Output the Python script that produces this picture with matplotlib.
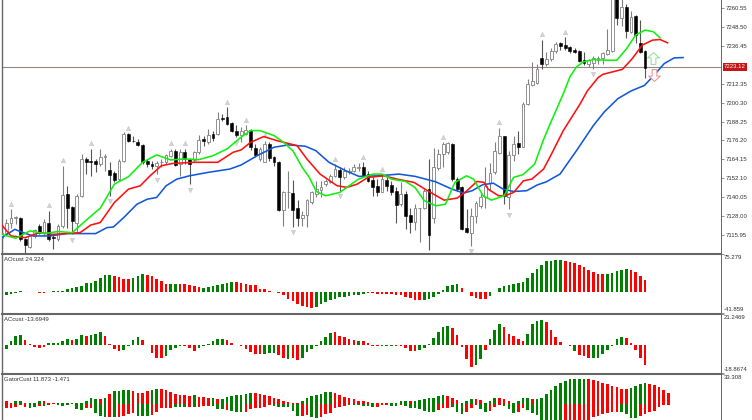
import numpy as np
import matplotlib
matplotlib.use('Agg')
import matplotlib.pyplot as plt

W, H = 752, 420
PLOT_LEFT, PLOT_RIGHT = 2, 721
BAR_X0, BAR_STEP = 1.67, 4.696
FONT = 'Liberation Sans'
TEXT_COL = '#333333'
EDGE_COL = '#666666'
BULL = '#008000'
BEAR = '#ff0000'

# --- candles (one row = ten bars) ---
opens = [7114.3, 7117.5, 7123.9, 7126.9, 7127.1, 7113.2, 7108.4, 7115.4, 7121.8, 7117.5,
         7123.9, 7114.5, 7113.2, 7121.8, 7142.0, 7133.9, 7123.9, 7141.0, 7164.4, 7162.9,
         7163.3, 7161.2, 7165.9, 7157.4, 7155.2, 7151.6, 7162.9, 7180.4, 7176.1, 7175.1,
         7173.3, 7162.9, 7161.2, 7159.7, 7162.3, 7162.3, 7166.5, 7169.7, 7161.2, 7168.7,
         7164.4, 7163.8, 7168.7, 7177.2, 7175.1, 7180.4, 7180.5, 7190.7, 7191.2, 7187.5,
         7182.2, 7179.4, 7180.5, 7183.1, 7171.4, 7164.4, 7162.3, 7174.0, 7165.5, 7162.7,
         7131.8, 7143.1, 7142.9, 7133.1, 7127.1, 7128.8, 7137.3, 7142.4, 7144.6, 7148.4,
         7149.7, 7153.7, 7157.4, 7152.7, 7156.1, 7156.9, 7158.6, 7159.5, 7154.8, 7151.0,
         7147.4, 7143.7, 7151.0, 7148.0, 7144.2, 7135.6, 7142.4, 7128.6, 7124.5, 7132.9,
         7133.1, 7145.2, 7126.7, 7158.6, 7167.6, 7168.7, 7174.0, 7151.6, 7146.7, 7120.3,
         7117.5, 7128.0, 7134.6, 7140.3, 7149.1, 7155.9, 7168.0, 7178.9, 7139.9, 7167.0,
         7174.6, 7172.3, 7199.2, 7211.7, 7212.8, 7229.0, 7225.2, 7228.4, 7233.3, 7238.4,
         7236.9, 7235.8, 7234.1, 7233.3, 7227.7, 7225.2, 7225.6, 7227.7, 7229.0, 7231.1,
         7233.3, 7268.0, 7253.9, 7261.0, 7245.4, 7255.6, 7238.4, 7233.3]
highs = [7122.8, 7126.0, 7132.4, 7128.2, 7127.5, 7114.3, 7116.4, 7119.6, 7122.8, 7126.0,
         7131.4, 7116.4, 7122.8, 7160.1, 7147.3, 7134.6, 7142.0, 7167.6, 7165.5, 7170.8,
         7164.4, 7170.8, 7167.6, 7162.3, 7156.9, 7164.4, 7181.4, 7180.8, 7179.3, 7177.2,
         7174.0, 7164.4, 7163.3, 7163.3, 7164.4, 7167.6, 7170.8, 7170.8, 7170.8, 7170.8,
         7165.0, 7169.7, 7180.0, 7179.3, 7183.6, 7182.5, 7194.3, 7192.9, 7197.5, 7188.0,
         7185.8, 7184.8, 7185.8, 7183.7, 7174.0, 7171.9, 7176.1, 7175.0, 7166.5, 7163.3,
         7144.2, 7156.5, 7151.0, 7138.2, 7131.4, 7138.8, 7144.2, 7150.1, 7150.1, 7151.6,
         7154.8, 7161.2, 7159.0, 7159.0, 7158.6, 7161.2, 7161.6, 7162.3, 7156.9, 7153.7,
         7151.6, 7154.8, 7153.7, 7150.5, 7146.3, 7149.5, 7144.2, 7133.5, 7135.6, 7133.5,
         7145.2, 7164.4, 7171.4, 7170.8, 7175.0, 7175.0, 7174.4, 7152.7, 7147.4, 7132.4,
         7133.5, 7137.8, 7142.0, 7159.1, 7161.6, 7175.0, 7184.2, 7179.3, 7169.3, 7178.9,
         7182.1, 7200.7, 7215.6, 7226.2, 7225.2, 7240.5, 7232.6, 7235.2, 7239.0, 7239.0,
         7241.8, 7236.5, 7234.8, 7233.7, 7232.6, 7228.4, 7229.9, 7229.9, 7232.6, 7246.9,
         7272.0, 7272.0, 7270.0, 7263.1, 7258.8, 7256.1, 7252.9, 7233.7]
lows = [7109.0, 7116.4, 7120.7, 7122.8, 7112.2, 7104.7, 7107.9, 7114.3, 7116.4, 7115.4,
        7112.2, 7106.9, 7112.2, 7120.7, 7120.7, 7116.4, 7117.5, 7139.9, 7154.8, 7153.7,
        7155.9, 7160.1, 7156.9, 7141.0, 7149.5, 7150.5, 7162.3, 7175.1, 7175.1, 7172.9,
        7161.2, 7159.1, 7158.0, 7154.8, 7159.5, 7161.2, 7165.5, 7160.1, 7153.7, 7161.2,
        7148.4, 7162.3, 7167.6, 7172.9, 7174.0, 7176.1, 7179.9, 7188.6, 7185.8, 7181.6,
        7178.4, 7175.2, 7179.4, 7170.0, 7165.5, 7163.3, 7162.3, 7163.3, 7160.1, 7131.4,
        7121.8, 7133.5, 7121.1, 7121.8, 7121.8, 7121.1, 7136.0, 7139.9, 7140.3, 7147.4,
        7148.8, 7152.7, 7144.2, 7151.6, 7154.8, 7155.9, 7156.5, 7153.1, 7149.5, 7141.0,
        7141.0, 7143.1, 7144.2, 7141.6, 7123.9, 7134.6, 7119.6, 7117.5, 7119.0, 7111.8,
        7132.4, 7106.2, 7123.9, 7157.4, 7159.1, 7167.6, 7150.5, 7144.2, 7119.0, 7117.5,
        7109.0, 7123.9, 7133.5, 7133.1, 7144.2, 7154.8, 7167.6, 7135.6, 7132.4, 7162.9,
        7167.6, 7171.8, 7198.5, 7210.9, 7212.0, 7222.0, 7223.7, 7226.9, 7231.6, 7233.7,
        7234.1, 7232.0, 7232.0, 7226.2, 7224.1, 7223.0, 7222.0, 7224.7, 7224.7, 7230.5,
        7232.7, 7249.7, 7249.0, 7241.2, 7244.4, 7238.4, 7232.2, 7216.2]
closes = [7117.5, 7123.9, 7127.1, 7127.5, 7113.2, 7109.6, 7115.4, 7119.2, 7117.5, 7124.3,
          7113.2, 7113.9, 7121.8, 7141.6, 7133.1, 7125.0, 7141.0, 7164.4, 7162.3, 7162.3,
          7161.2, 7165.5, 7166.5, 7154.4, 7151.0, 7162.9, 7180.4, 7175.7, 7175.7, 7173.3,
          7162.3, 7161.2, 7160.1, 7161.8, 7162.7, 7167.2, 7169.7, 7160.8, 7168.7, 7164.4,
          7161.2, 7168.7, 7176.5, 7176.1, 7180.0, 7177.8, 7190.1, 7190.1, 7186.9, 7182.2,
          7179.4, 7182.2, 7183.1, 7172.0, 7167.2, 7170.8, 7174.0, 7165.0, 7162.3, 7132.2,
          7143.1, 7143.5, 7132.2, 7127.1, 7128.8, 7138.2, 7143.1, 7145.2, 7146.3, 7150.5,
          7153.7, 7158.0, 7153.1, 7156.5, 7156.9, 7159.1, 7159.5, 7153.7, 7150.1, 7146.7,
          7143.7, 7151.6, 7147.1, 7143.1, 7135.2, 7142.4, 7128.0, 7124.5, 7133.5, 7133.3,
          7144.2, 7116.0, 7159.1, 7167.6, 7174.0, 7174.4, 7151.6, 7145.2, 7119.6, 7118.2,
          7128.0, 7136.1, 7139.9, 7147.3, 7155.2, 7169.3, 7178.9, 7141.0, 7167.2, 7174.0,
          7171.9, 7199.6, 7212.4, 7214.1, 7222.0, 7225.2, 7227.9, 7233.3, 7237.9, 7236.5,
          7235.2, 7233.3, 7232.6, 7226.7, 7225.6, 7227.3, 7229.0, 7229.0, 7231.6, 7233.7,
          7270.0, 7253.9, 7261.0, 7246.1, 7255.0, 7243.3, 7232.6, 7222.6]

up_fractals = [2, 10, 13, 19, 27, 36, 39, 48, 52, 56, 71, 77, 81, 94, 106, 115, 120]
down_fractals = [5, 11, 15, 23, 33, 40, 50, 62, 72, 91, 100, 108, 126]

# --- moving averages, read at selected bars ---
green_bars = [0, 3, 6, 9, 12, 15, 18, 21, 24, 27, 30, 33, 36, 39, 42, 45, 48, 51, 53, 55, 58, 60, 62, 64, 65.5,
              67, 69, 72, 74, 76, 79, 81, 83, 86, 88, 90, 92.5, 94.5, 96.5, 99, 100.5, 102.5, 104.3, 107, 109,
              111, 113.5, 115.3, 116.9, 119.6, 121, 122.4, 123.8, 126, 128.9, 131, 133.1, 135, 137, 138.8, 140.2]
green_vals = [7116.4, 7113.9, 7118.6, 7116.9, 7118.2, 7117.5, 7125.4, 7133.1, 7148.4, 7153.1, 7162.3, 7167.0,
              7163.8, 7164.4, 7164.0, 7166.5, 7170.8, 7178.3, 7182.5, 7182.5, 7179.3, 7175.1, 7169.7, 7159.1,
              7152.7, 7143.7, 7141.0, 7143.1, 7147.4, 7151.6, 7154.8, 7154.8, 7151.6, 7150.1, 7146.3, 7137.8,
              7134.6, 7135.6, 7149.5, 7153.7, 7151.6, 7141.0, 7138.2, 7141.0, 7152.7, 7154.4, 7161.2, 7176.1,
              7187.5, 7206.0, 7216.7, 7223.0, 7226.2, 7227.7, 7227.3, 7227.3, 7234.8, 7243.3, 7246.5, 7245.4,
              7241.6]
red_bars = [0, 2, 5, 8, 11, 16.7, 19, 21, 24, 27, 29.5, 31.6, 34, 36.5, 41, 46, 49.3, 51, 53, 55.8, 58.6, 62.9,
            65, 67.8, 71.4, 73.5, 75.7, 78, 81.4, 84.2, 87.8, 90.7, 94.2, 97, 99.1, 101.2, 102.7, 103.6, 105.8,
            107.2, 109, 111.1, 112.9, 115.4, 116.9, 119.6, 123.2, 124.7, 126, 127, 128, 132.2, 134.3, 136.4, 138.6,
            140.2, 141.8]
red_vals = [7122.4, 7115.4, 7114.3, 7117.5, 7116.4, 7117.5, 7122.4, 7123.9, 7136.7, 7145.2, 7147.3, 7153.7,
            7160.1, 7161.6, 7162.3, 7162.3, 7168.7, 7170.2, 7175.0, 7178.7, 7176.1, 7172.9, 7164.4, 7154.8,
            7147.4, 7146.3, 7148.4, 7152.7, 7153.7, 7151.6, 7149.5, 7144.2, 7138.2, 7139.5, 7144.2, 7150.1,
            7149.5, 7145.2, 7141.0, 7141.0, 7143.1, 7150.5, 7151.6, 7158.0, 7166.5, 7182.5, 7199.6, 7207.7,
            7212.5, 7216.2, 7218.3, 7221.5, 7228.4, 7236.9, 7240.1, 7240.5, 7238.4]
blue_bars = [0, 2.8, 4.6, 6.7, 10.3, 13.8, 20, 22.4, 23.8, 26, 28.8, 31, 33, 35, 37.3, 40, 44, 48.6, 51, 54.4,
             58, 61.1, 64.7, 66.9, 69.7, 73.3, 76.1, 80.3, 84.6, 88.1, 92.4, 95.9, 98.4, 100.2, 102.4, 104.7,
             106.8, 109, 111.8, 114, 116, 118.9, 122.4, 126, 128.3, 131.2, 134, 136.9, 138.9, 141.1, 143.2, 145.1]
blue_vals = [7114.3, 7119.6, 7117.5, 7115.4, 7115.4, 7116.9, 7116.9, 7120.7, 7121.1, 7127.1, 7135.6, 7138.8,
             7139.9, 7147.3, 7151.6, 7153.7, 7155.9, 7158.0, 7160.6, 7166.5, 7171.9, 7173.4, 7172.5, 7169.7,
             7162.3, 7156.9, 7153.3, 7153.7, 7154.8, 7153.3, 7149.9, 7145.2, 7142.7, 7144.2, 7148.0, 7149.0,
             7145.2, 7143.7, 7144.2, 7147.8, 7149.9, 7154.8, 7169.7, 7185.7, 7194.3, 7202.8, 7207.7, 7211.3,
             7217.7, 7225.2, 7228.8, 7229.0]

last_price = 7223.12
price_ticks = [7260.55, 7248.50, 7236.45, 7212.35, 7200.30, 7188.25, 7176.20, 7164.15, 7152.10, 7140.05,
               7128.00, 7115.95]
price_top, price_bottom = 7265.66, 7103.9

# --- AOcust ---
ao_vals = [-11.8, -5.2, -3.3, -2.0, 2.0, 0.7, 0.7, -0.7, -1.3, -1.3,
           0.7, 2.0, 2.0, 2.6, 5.2, 8.5, 9.2, 12.5, 17.1, 18.4,
           21.6, 28.2, 32.8, 34.1, 31.5, 28.9, 26.2, 24.9, 26.9, 30.8,
           34.8, 34.1, 30.8, 26.2, 21.0, 16.4, 15.1, 15.7, 15.1, 15.1,
           14.4, 11.2, 9.2, 7.9, 9.8, 11.2, 13.1, 15.7, 17.7, 19.0,
           19.0, 18.4, 16.4, 14.4, 13.8, 6.6, 5.2, 2.0, 0.7, -2.0,
           -5.2, -13.1, -17.7, -23.0, -28.2, -30.8, -31.5, -29.5, -24.9, -19.7,
           -16.4, -13.1, -9.8, -9.2, -7.9, -6.6, -5.2, -3.3, -2.6, -2.0,
           -3.3, -4.6, -4.6, -4.6, -5.9, -5.9, -9.2, -11.8, -15.1, -16.4,
           -16.4, -13.8, -9.2, -3.3, 3.9, 11.2, 14.4, 15.1, 8.5, 0.7,
           -7.9, -11.8, -14.4, -13.1, -7.9, -0.7, 7.9, 11.2, 13.1, 16.4,
           17.7, 19.0, 26.9, 38.0, 45.9, 54.4, 60.4, 62.3, 63.6, 63.6,
           62.3, 59.0, 57.1, 52.5, 49.2, 42.6, 39.4, 36.1, 35.4, 35.4,
           36.7, 40.7, 43.3, 44.6, 44.0, 39.4, 31.5, 24.3]
ao_cols = ('r' + 'g' * 4 + 'r' * 5 + 'g' * 14 + 'r' * 4 + 'g' * 3 + 'r' * 5 + 'g' * 2 + 'r' * 5 + 'g' * 7
           + 'r' * 17 + 'g' * 11 + 'r' * 12 + 'g' * 8 + 'r' * 6 + 'g' * 16 + 'r' * 9 + 'g' * 5 + 'r' * 4)
ao_range = (-41.859, 75.279)

# --- ACcust ---
ac_vals = [-10.2, -2.7, 2.9, 6.2, 6.7, 3.6, 0.9, -1.1, -2.2, -1.1,
           1.6, 1.6, 1.8, 2.9, 4.0, 3.8, 4.2, 6.7, 6.2, 6.7,
           7.8, 8.9, 6.2, 1.1, -2.7, -3.6, -2.9, -0.2, 3.3, 5.3,
           3.3, 0.4, -5.6, -8.5, -8.9, -7.1, -3.3, -1.6, -0.4, -0.7,
           -2.2, -3.6, -2.2, -0.2, 0.7, 2.7, 4.0, 4.0, 3.6, 1.3,
           0.1, -0.4, -2.7, -4.9, -6.2, -6.2, -6.2, -5.6, -5.6, -6.7,
           -8.9, -9.4, -8.9, -10.0, -8.5, -4.5, -2.7, -0.4, 3.1, 5.8,
           8.5, 8.9, 6.2, 5.3, 4.0, 3.6, 2.9, 2.9, 1.3, -0.4,
           -0.7, -0.7, -0.7, -0.7, -0.7, -0.4, -1.8, -3.6, -3.6, -3.1,
           -1.6, 0.7, 4.7, 8.7, 12.5, 13.4, 11.6, 6.7, -1.3, -9.4,
           -14.7, -13.4, -9.4, -3.3, 4.5, 10.7, 14.3, 12.3, 7.8, 6.2,
           4.5, 3.1, 7.8, 14.7, 16.3, 17.4, 15.6, 10.2, 5.8, 2.2,
           0.4, -0.7, -3.6, -6.7, -7.1, -8.5, -8.5, -8.5, -6.2, -3.1,
           -0.2, 4.5, 5.6, 4.9, 1.3, -3.1, -8.9, -13.7]
ac_cols = ('g' * 5 + 'r' * 5 + 'g' * 5 + 'r' + 'g' * 2 + 'r' + 'g' * 3 + 'r' * 4 + 'g' * 4 + 'r' * 5 + 'g' * 4
           + 'r' * 3 + 'g' * 6 + 'r' * 8 + 'g' * 3 + 'r' * 2 + 'g' + 'r' * 2 + 'g' * 7 + 'r' * 5 + 'g' + 'r' * 4
           + 'g' * 3 + 'r' * 5 + 'g' * 7 + 'r' * 5 + 'g' * 2 + 'r' + 'g' * 3 + 'r' * 5 + 'g' * 4 + 'r' * 6 + 'g'
           + 'r' * 3 + 'g' * 7 + 'r' * 5)
ac_range = (-18.8674, 21.2469)

# --- GatorCust ---
gator_up = [8.0, 2.3, 0.4, 2.3, 2.3, 1.1, 0.1, 0.8, 2.3, 2.3,
            0.4, 0.4, 0.1, 0.1, 0.8, 0.8, 0.1, 0.1, 2.3, 6.1,
            5.3, 4.9, 6.8, 11.0, 13.7, 14.4, 15.2, 15.2, 13.7, 11.8,
            11.4, 13.7, 15.6, 16.7, 16.7, 15.6, 12.9, 11.0, 9.1, 9.1,
            8.4, 9.1, 7.6, 7.2, 6.5, 6.1, 5.3, 5.3, 7.2, 8.7,
            9.1, 9.9, 11.0, 12.2, 11.8, 10.6, 9.1, 8.4, 6.8, 4.9,
            3.0, 1.5, 0.8, 0.1, 2.3, 6.1, 8.7, 9.9, 10.6, 12.9,
            12.9, 11.4, 9.1, 7.2, 6.1, 4.9, 3.0, 2.7, 1.5, 0.8,
            0.4, 0.4, 0.4, 0.4, 0.8, 2.3, 2.3, 2.3, 3.0, 4.2,
            5.3, 6.1, 6.8, 8.4, 9.9, 8.4, 6.8, 3.8, 0.8, 3.0,
            5.3, 5.3, 3.8, 0.1, 3.0, 6.1, 6.1, 4.9, 2.3, 0.1,
            2.3, 6.1, 6.1, 4.9, 5.3, 6.8, 10.6, 15.2, 19.4, 23.2,
            25.8, 27.4, 27.7, 27.7, 27.7, 27.7, 27.0, 25.8, 23.6, 22.0,
            20.1, 18.2, 16.7, 16.7, 17.5, 19.4, 22.0, 23.2, 22.4, 21.3,
            18.2, 15.6, 11.9]
gator_up_cols = ('g' + 'r' * 2 + 'g' * 2 + 'r' + 'g' * 3 + 'r' * 3 + 'g' * 9 + 'r' + 'g' + 'r' + 'g' * 4 + 'r' * 4
                 + 'g' * 2 + 'r' * 7 + 'g' + 'r' * 3 + 'g' + 'r' + 'g' * 7 + 'r' * 10 + 'g' * 7 + 'r' * 8 + 'g'
                 + 'r' * 3 + 'g' * 4 + 'r' + 'g' * 7 + 'r' * 3 + 'g' * 3 + 'r' * 2 + 'g' * 3 + 'r' * 3 + 'g' * 4
                 + 'r' + 'g' * 11 + 'r' * 9 + 'g' * 4 + 'r' * 5)
gator_low = [-7.2, -4.6, -4.6, -3.4, -1.5, -3.4, -4.6, -3.4, -2.3, -2.3,
             -1.1, -0.8, -1.5, -2.3, -1.1, -0.8, -6.1, -7.6, -5.3, -5.3,
             -10.3, -14.4, -15.6, -14.8, -15.6, -14.8, -13.7, -12.2, -11.0, -13.7,
             -14.4, -14.4, -12.9, -9.9, -5.3, -5.3, -5.3, -3.8, -3.8, -3.8,
             -3.8, -4.2, -3.4, -2.3, -2.3, -3.0, -6.5, -6.5, -7.2, -8.4,
             -9.9, -9.9, -9.1, -6.5, -5.3, -5.3, -3.4, -1.5, -2.3, -3.4,
             -3.4, -4.2, -8.4, -13.7, -13.7, -12.9, -15.6, -16.7, -14.8, -11.8,
             -11.0, -5.3, -4.2, -2.7, -1.5, -1.5, -1.5, -2.3, -3.0, -3.4,
             -3.4, -1.1, -1.1, -2.3, -2.3, -1.9, -2.7, -5.3, -5.3, -6.5,
             -8.4, -9.1, -9.1, -6.8, -5.3, -5.3, -4.2, -9.1, -11.4, -9.1,
             -5.3, -1.5, -6.5, -9.1, -8.0, -4.2, -1.5, -2.7, -6.5, -11.0,
             -9.9, -5.3, -7.2, -10.3, -12.9, -20.0, -20.0, -20.0, -20.0, -20.0,
             -20.0, -20.0, -20.0, -20.0, -20.0, -20.0, -15.2, -13.7, -12.2, -11.0,
             -9.1, -9.1, -9.9, -12.2, -16.7, -16.0, -13.7, -12.2, -9.9, -8.4,
             -3.8, -1.6, -1.5]
gator_low_cols = ('g' + 'r' * 5 + 'g' * 2 + 'r' + 'g' + 'r' * 2 + 'g' * 6 + 'r' * 2 + 'g' * 3 + 'r' + 'g' + 'r' * 4
                  + 'g' * 3 + 'r' * 5 + 'g' * 3 + 'r' + 'g' + 'r' * 3 + 'g' * 3 + 'r' + 'g' * 3 + 'r' * 6 + 'g' * 6
                  + 'r' * 2 + 'g' * 2 + 'r' * 6 + 'g' * 6 + 'r' * 3 + 'g' * 2 + 'r' + 'g' * 7 + 'r' * 3 + 'g' * 3
                  + 'r' * 3 + 'g' * 2 + 'r' * 3 + 'g' * 3 + 'r' * 2 + 'g' * 8 + 'r' * 12 + 'g' * 4 + 'r' * 7)
gator_range = (-18.56, 33.308)


def make_axes(fig, top_px, bottom_px):
    ax = fig.add_axes([PLOT_LEFT / W, 1 - bottom_px / H, (PLOT_RIGHT - PLOT_LEFT) / W, (bottom_px - top_px) / H])
    ax.set_xlim((PLOT_LEFT - BAR_X0) / BAR_STEP, (PLOT_RIGHT - BAR_X0) / BAR_STEP)
    ax.set_xticks([])
    ax.spines['bottom'].set_visible(False)
    ax.spines['top'].set_visible(False)
    ax.spines['left'].set_color(EDGE_COL)
    ax.spines['left'].set_linewidth(1.0)
    ax.spines['right'].set_color(EDGE_COL)
    ax.spines['right'].set_linewidth(0.7)
    ax.yaxis.tick_right()
    ax.tick_params(axis='y', length=2.2, width=0.5, color=EDGE_COL, pad=1.2, labelsize=4.3, labelcolor=TEXT_COL)
    return ax


def style_pane(ax, title, limits):
    ax.set_ylim(*limits)
    ax.spines['top'].set_visible(True)
    ax.spines['top'].set_color(EDGE_COL)
    ax.spines['top'].set_linewidth(1.5)
    ax.annotate(title, (0, 1), xycoords='axes fraction', xytext=(1.5, -2.2), textcoords='offset points',
                ha='left', va='top', fontsize=4.3, family=FONT, color=TEXT_COL)


def histogram(ax, vals, cols):
    x = np.arange(len(vals))
    ax.bar(x, vals, width=0.56, color=[BULL if c == 'g' else BEAR for c in cols], linewidth=0)


def range_labels(ax, limits, labels):
    # labels sit just inside the pane limits, next to the end ticks
    ax.set_yticks(limits)
    ax.set_yticklabels([])
    ax.annotate(labels[0], (1, 1), xycoords='axes fraction', xytext=(2.2, -2.2), textcoords='offset points',
                fontsize=4.3, family=FONT, color=TEXT_COL, va='center', annotation_clip=False)
    if len(labels) > 1:
        ax.annotate(labels[1], (1, 0), xycoords='axes fraction', xytext=(2.2, 2.2), textcoords='offset points',
                    fontsize=4.3, family=FONT, color=TEXT_COL, va='center', annotation_clip=False)


fig = plt.figure(figsize=(W / 100, H / 100), dpi=100, facecolor='white')

# --- price pane ---
ax = make_axes(fig, 0, 254)
ax.set_ylim(price_bottom, price_top)
x = np.arange(len(closes))
o, h, l, c = map(np.array, (opens, highs, lows, closes))
up = c >= o
ax.vlines(x[up], l[up], h[up], color='#808080', linewidth=0.8, zorder=2)
ax.vlines(x[~up], l[~up], h[~up], color='#555555', linewidth=0.8, zorder=2)
ax.bar(x[up], (c - o)[up], bottom=o[up], width=0.6, facecolor='white', edgecolor='#808080', linewidth=0.6, zorder=3)
ax.bar(x[~up], (o - c)[~up], bottom=c[~up], width=0.6, facecolor='black', edgecolor='black', linewidth=0.4, zorder=3)

ax.plot(up_fractals, h[up_fractals] + 3.5, linestyle='none', marker='^', ms=3.2, mfc='#d4d4d4', mec='#bcbcbc',
        mew=0.3, zorder=4)
ax.plot(down_fractals, l[down_fractals] - 3.5, linestyle='none', marker='v', ms=3.2, mfc='#d4d4d4', mec='#bcbcbc',
        mew=0.3, zorder=4)

ax.axhline(last_price, color='#9a8585', linewidth=0.8, zorder=1)
ax.plot(blue_bars, blue_vals, color='#1358d8', linewidth=1.15, zorder=5, solid_joinstyle='round')
ax.plot(red_bars, red_vals, color='#ff1010', linewidth=1.15, zorder=6, solid_joinstyle='round')
ax.plot(green_bars, green_vals, color='#10f010', linewidth=1.15, zorder=7, solid_joinstyle='round')

# hollow signal arrows
arrow_up = [(-0.4, -1), (0.4, -1), (0.4, 0.1), (1, 0.1), (0, 1), (-1, 0.1), (-0.4, 0.1), (-0.4, -1)]
arrow_down = [(px, -py) for px, py in arrow_up]
ax.plot([138.7], [7229.0], marker=arrow_up, ms=8.5, mfc='white', mec='#8fdf8f', mew=0.7, zorder=8)
ax.plot([139.0], [7218.0], marker=arrow_down, ms=8.5, mfc='white', mec='#f08a8a', mew=0.7, zorder=8)

ax.set_yticks(price_ticks)
ax.set_yticklabels([f'{t:.2f}' for t in price_ticks], family=FONT)
ax.annotate(f'{last_price:.2f}', (1, last_price), xycoords=('axes fraction', 'data'), xytext=(2.2, 0),
            textcoords='offset points', fontsize=4.3, family=FONT, color='white', va='center',
            annotation_clip=False, bbox=dict(boxstyle='square,pad=0.25', fc='#c81414', ec='none'))

# --- oscillators ---
ax1 = make_axes(fig, 254, 313)
histogram(ax1, ao_vals, ao_cols)
style_pane(ax1, 'AOcust 24.324', ao_range)
range_labels(ax1, ao_range, ['75.279', '-41.859'])

ax2 = make_axes(fig, 314, 373)
histogram(ax2, ac_vals, ac_cols)
style_pane(ax2, 'ACcust -13.6949', ac_range)
range_labels(ax2, ac_range, ['21.2469', '-18.8674'])

ax3 = make_axes(fig, 374, 420)
histogram(ax3, gator_up, gator_up_cols)
histogram(ax3, gator_low, gator_low_cols)
style_pane(ax3, 'GatorCust 11.873 -1.471', gator_range)
range_labels(ax3, (gator_range[1],), ['33.308'])

fig.savefig('out.png', dpi=100, facecolor='white')
